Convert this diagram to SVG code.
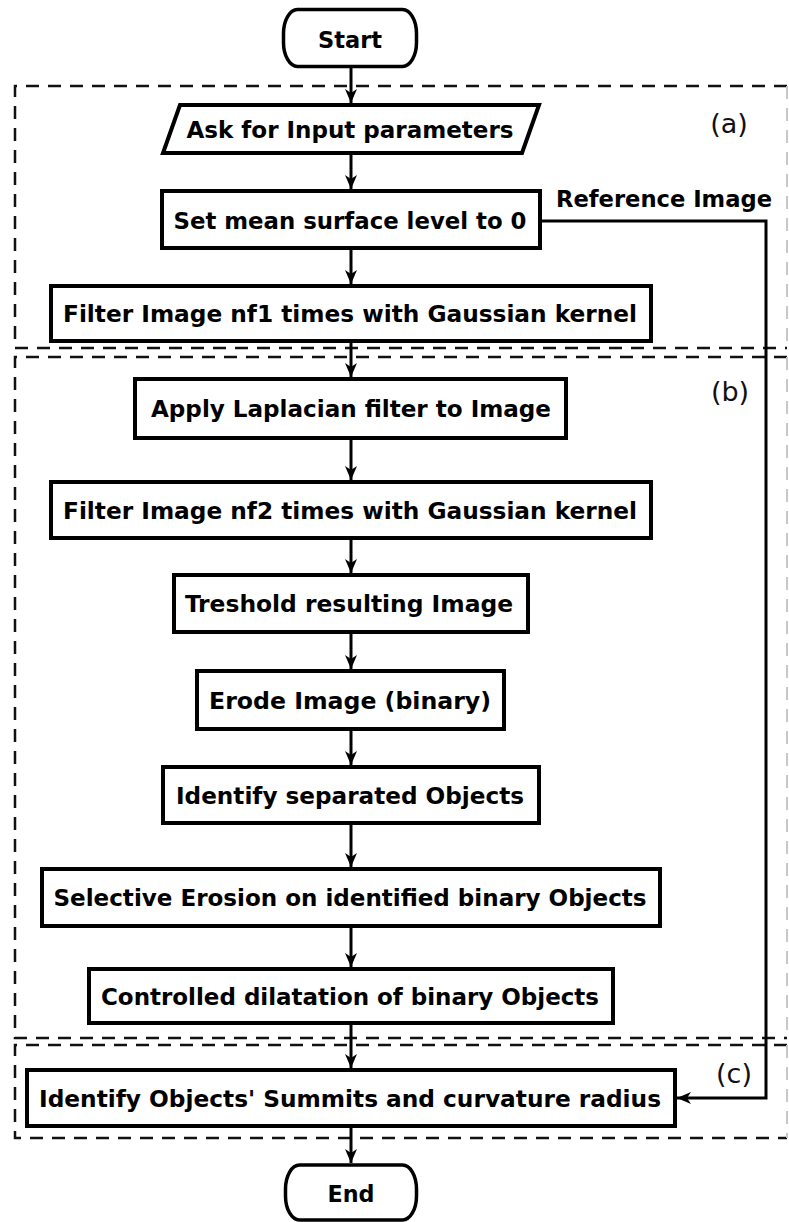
<svg xmlns="http://www.w3.org/2000/svg" width="789" height="1222" viewBox="0 0 789 1222">
<style>
.box{fill:#fff;stroke:#000;stroke-width:4}
.term{fill:#fff;stroke:#000;stroke-width:3.5}
.t{font-family:"DejaVu Sans Condensed","DejaVu Sans",sans-serif;font-weight:bold;font-size:23px;fill:#000;text-anchor:middle}
.lbl{font-family:"DejaVu Sans","DejaVu Sans Condensed",sans-serif;font-size:27px;fill:#111;text-anchor:middle}
.dash{fill:none;stroke:#111;stroke-width:2.5;stroke-dasharray:13 9}
.dashr{fill:none;stroke:#c8c8c8;stroke-width:2;stroke-dasharray:13 9}
.c{fill:none;stroke:#000;stroke-width:3}
</style>
<defs>
<marker id="arr" viewBox="0 0 14 12" refX="14" refY="6" markerWidth="14" markerHeight="12" markerUnits="userSpaceOnUse" orient="auto">
<path d="M0,0 L14,6 L0,12 L4,6 z" fill="#000"/>
</marker>
</defs>

<g id="regions">
<path class="dash" d="M787,86 H15 V348 H787"/>
<path class="dashr" d="M787,86 V348"/>
<path class="dash" d="M787,357 H15 V1038 H787"/>
<path class="dashr" d="M787,357 V1038"/>
<path class="dash" d="M787,1045 H15 V1138 H787"/>
<path class="dashr" d="M787,1045 V1138"/>
<text class="lbl" x="729" y="133">(a)</text>
<text class="lbl" x="730" y="401">(b)</text>
<text class="lbl" x="734" y="1083">(c)</text>
</g>

<g id="connectors">
<line class="c" x1="351" y1="68" x2="351" y2="103" marker-end="url(#arr)"/>
<line class="c" x1="351" y1="155" x2="351" y2="189" marker-end="url(#arr)"/>
<line class="c" x1="351" y1="250" x2="351" y2="284" marker-end="url(#arr)"/>
<line class="c" x1="351" y1="343" x2="351" y2="377" marker-end="url(#arr)"/>
<line class="c" x1="351" y1="440" x2="351" y2="480" marker-end="url(#arr)"/>
<line class="c" x1="351" y1="540" x2="351" y2="573" marker-end="url(#arr)"/>
<line class="c" x1="351" y1="634" x2="351" y2="669" marker-end="url(#arr)"/>
<line class="c" x1="351" y1="731" x2="351" y2="765" marker-end="url(#arr)"/>
<line class="c" x1="351" y1="825" x2="351" y2="867" marker-end="url(#arr)"/>
<line class="c" x1="351" y1="928" x2="351" y2="967" marker-end="url(#arr)"/>
<line class="c" x1="351" y1="1025" x2="351" y2="1068" marker-end="url(#arr)"/>
<line class="c" x1="351" y1="1128" x2="351" y2="1163" marker-end="url(#arr)"/>
<polyline class="c" points="542,221 766,221 766,1098 677,1098" marker-end="url(#arr)"/>
<text class="t" x="664" y="207" textLength="216" lengthAdjust="spacingAndGlyphs">Reference Image</text>
</g>

<g id="start">
<rect class="term" x="283.5" y="9.5" width="133" height="57" rx="14" ry="24"/>
<text class="t" x="350" y="48" textLength="64" lengthAdjust="spacingAndGlyphs">Start</text>
</g>

<g id="ask">
<path class="box" d="M180,105 H539 L522,153 H163 Z"/>
<text class="t" x="350" y="138" textLength="327" lengthAdjust="spacingAndGlyphs">Ask for Input parameters</text>
</g>

<g id="setmean">
<rect class="box" x="162" y="191" width="378" height="57"/>
<text class="t" x="350" y="229" textLength="353" lengthAdjust="spacingAndGlyphs">Set mean surface level to 0</text>
</g>

<g id="filter1">
<rect class="box" x="51" y="286" width="600" height="55"/>
<text class="t" x="350" y="322" textLength="574" lengthAdjust="spacingAndGlyphs">Filter Image nf1 times with Gaussian kernel</text>
</g>

<g id="laplacian">
<rect class="box" x="135" y="379" width="431" height="59"/>
<text class="t" x="351" y="417" textLength="400" lengthAdjust="spacingAndGlyphs">Apply Laplacian filter to Image</text>
</g>

<g id="filter2">
<rect class="box" x="51" y="482" width="600" height="56"/>
<text class="t" x="350" y="519" textLength="574" lengthAdjust="spacingAndGlyphs">Filter Image nf2 times with Gaussian kernel</text>
</g>

<g id="threshold">
<rect class="box" x="174" y="575" width="354" height="57"/>
<text class="t" x="349" y="612" textLength="328" lengthAdjust="spacingAndGlyphs">Treshold resulting Image</text>
</g>

<g id="erode">
<rect class="box" x="197" y="671" width="307" height="58"/>
<text class="t" x="350" y="709" textLength="282" lengthAdjust="spacingAndGlyphs">Erode Image (binary)</text>
</g>

<g id="identify">
<rect class="box" x="163" y="767" width="376" height="56"/>
<text class="t" x="350" y="804" textLength="348" lengthAdjust="spacingAndGlyphs">Identify separated Objects</text>
</g>

<g id="selective">
<rect class="box" x="42" y="869" width="618" height="57"/>
<text class="t" x="350" y="906" textLength="593" lengthAdjust="spacingAndGlyphs">Selective Erosion on identified binary Objects</text>
</g>

<g id="dilatation">
<rect class="box" x="89" y="969" width="524" height="54"/>
<text class="t" x="350" y="1005" textLength="498" lengthAdjust="spacingAndGlyphs">Controlled dilatation of binary Objects</text>
</g>

<g id="summits">
<rect class="box" x="27" y="1070" width="648" height="56"/>
<text class="t" x="350" y="1107" textLength="622" lengthAdjust="spacingAndGlyphs">Identify Objects' Summits and curvature radius</text>
</g>

<g id="end">
<rect class="term" x="285.5" y="1165" width="131" height="55" rx="14" ry="24"/>
<text class="t" x="351" y="1202" textLength="47" lengthAdjust="spacingAndGlyphs">End</text>
</g>
</svg>
